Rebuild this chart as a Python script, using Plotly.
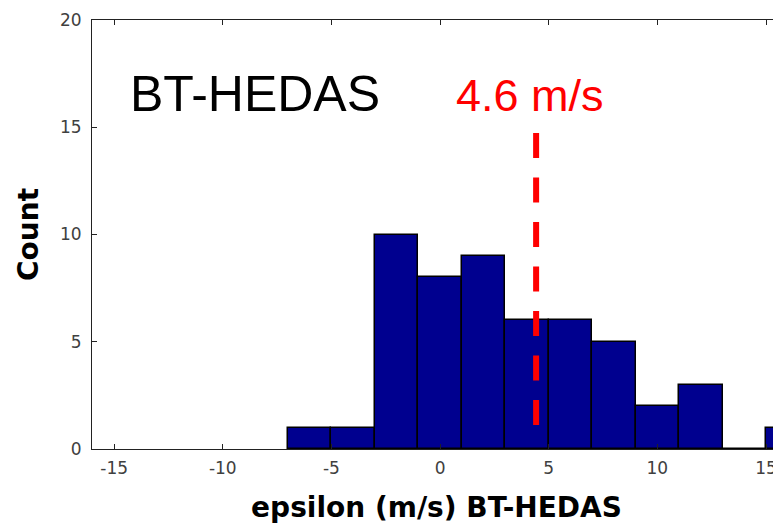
import plotly.graph_objects as go

# Histogram data (bin centers, width 2)
bin_centers = [-6, -4, -2, 0, 2, 4, 6, 8, 10, 12, 14, 16]
counts = [1, 1, 10, 8, 9, 6, 6, 5, 2, 3, 0, 1]
bin_width = 2

# Mean marker line (drawn top to bottom)
mean_x = [4.42, 4.42]
mean_y = [14.73, 1.12]
mean_label = "4.6 m/s"
panel_label = "BT-HEDAS"

x_ticks = [-15, -10, -5, 0, 5, 10, 15]
y_ticks = [0, 5, 10, 15, 20]

fig = go.Figure()
fig.add_trace(go.Bar(
    x=bin_centers, y=counts, width=[bin_width] * len(bin_centers),
    marker=dict(color="rgb(0,0,143)", line=dict(color="black", width=1.5)),
    showlegend=False,
))
fig.add_trace(go.Scatter(
    x=mean_x, y=mean_y, mode="lines",
    line=dict(color="#ff0000", width=6, dash="25px,19.5px"),
    showlegend=False,
))

fig.add_annotation(x=-14.35, y=16.55, xref="x", yref="y", text=panel_label,
                   showarrow=False, xanchor="left", yanchor="middle",
                   font=dict(family="Liberation Sans, Arial", size=50, color="black"))
fig.add_annotation(x=0.62, y=16.5, xref="x", yref="y", text=mean_label,
                   showarrow=False, xanchor="left", yanchor="middle",
                   font=dict(family="Liberation Sans, Arial", size=45, color="#ff0000"))

tick_font = dict(family="DejaVu Sans", size=17, color="#404040")
title_font = dict(family="DejaVu Sans", size=28, color="black", weight="bold")

# page body has an 8px margin: size the figure so the page fits the window
fig.update_layout(
    width=773, height=521,
    margin=dict(l=84, r=0, t=12, b=80),
    plot_bgcolor="white", paper_bgcolor="white",
    bargap=0,
    xaxis=dict(
        range=[-16.02, 15.69], tickvals=x_ticks, ticktext=[str(v) for v in x_ticks],
        ticks="inside", ticklen=5, tickcolor="#222", tickwidth=1,
        showline=True, linecolor="#222", linewidth=1, mirror="ticks",
        showgrid=False, zeroline=False, tickfont=tick_font,
        ticklabelstandoff=4, automargin=False, ticklabeloverflow="allow",
        title=dict(text="epsilon (m/s) BT-HEDAS", font=title_font, standoff=19),
    ),
    yaxis=dict(
        range=[0, 20], tickvals=y_ticks, ticktext=[str(v) for v in y_ticks],
        ticks="inside", ticklen=5, tickcolor="#222", tickwidth=1,
        showline=True, linecolor="#222", linewidth=1, mirror=False,
        showgrid=False, zeroline=False, tickfont=tick_font,
        ticklabelstandoff=6, automargin=False,
        title=dict(text="Count", font=title_font, standoff=13),
    ),
)

fig.write_html("out.html")
